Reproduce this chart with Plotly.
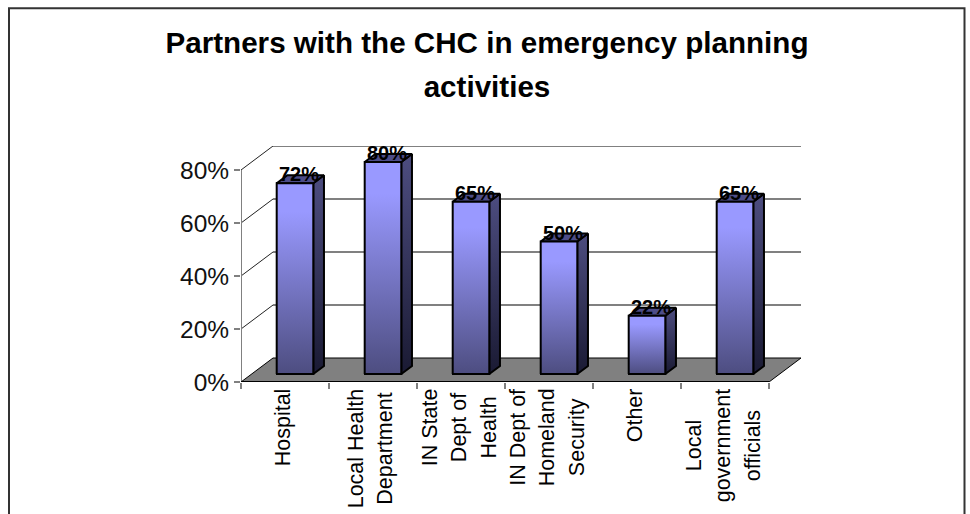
import plotly.graph_objects as go

W, H = 970, 514
title_lines = ["Partners with the CHC in emergency planning", "activities"]
categories = [
    ["Hospital"],
    ["Local Health", "Department"],
    ["IN State", "Dept of", "Health"],
    ["IN Dept of", "Homeland", "Security"],
    ["Other"],
    ["Local", "government", "officials"],
]
values = [72, 80, 65, 50, 22, 65]
y_ticks = [0, 20, 40, 60, 80]

# plot frame in pixels and 3D depth in data units
L, R, T, B = 241, 801, 145.7, 381.7
PX_X = 88.0
PX_Y = 2.65
DX = 32 / PX_X
DY = 24 / PX_Y
X0 = -0.5
X_END = 5.5
BAR_SHIFT = 10 / PX_X
BAR_W = 36.6 / PX_X
FRONT = 1 / 3
BACK = 2 / 3
TOP_Y = 80

fig = go.Figure()
xs = [i + BAR_SHIFT for i in range(len(values))]
fig.add_trace(go.Bar(
    x=xs, y=values, base=DY * FRONT, width=BAR_W,
    marker=dict(color="#7373bf", line=dict(color="black", width=2)),
    hoverinfo="skip", showlegend=False,
))


def poly(px, py, **kw):
    fig.add_trace(go.Scatter(x=px, y=py, mode="lines", fill="toself",
                             line=dict(color="black", width=2), hoverinfo="skip",
                             showlegend=False, **kw))


for x, v in zip(xs, values):
    a, b = x - BAR_W / 2, x + BAR_W / 2
    y0, y1 = DY * FRONT, DY * FRONT + v
    d = DX * (BACK - FRONT)
    e = DY * (BACK - FRONT)
    # side
    poly([b, b + d, b + d, b, b], [y0, y0 + e, y1 + e, y1, y0],
         fillgradient=dict(type="vertical", colorscale=[[0, "#1a1a33"], [1, "#4d4d80"]]))
    # top
    poly([a, b, b + d, a + d, a], [y1, y1, y1 + e, y1 + e, y1], fillcolor="#4d4d88")
    # front
    poly([a, b, b, a, a], [y0, y0, y1, y1, y0],
         fillgradient=dict(type="vertical", colorscale=[[0, "#4d4d80"], [0.85, "#9999ff"], [1, "#9999ff"]]))

fig.add_trace(go.Scatter(
    x=[x + 4 / PX_X for x in xs], y=[v + DY * FRONT - 3 / PX_Y for v in values], mode="text",
    text=[f"{v}%" for v in values], textposition="top center",
    textfont=dict(family="Liberation Sans", size=20, color="black", weight="bold"),
    hoverinfo="skip", showlegend=False, cliponaxis=False,
))

shapes = []
# floor
shapes.append(dict(type="path", layer="below", xref="x", yref="y",
                   path=f"M{X0},0 L{X_END},0 L{X_END + DX},{DY} L{X0 + DX},{DY} Z",
                   fillcolor="#808080", line=dict(color="black", width=1)))
for t in y_ticks:
    if t > 0:
        shapes.append(dict(type="line", layer="below", xref="x", yref="y", x0=X0 + DX, x1=X_END + DX,
                           y0=t + DY, y1=t + DY, line=dict(color="#808080", width=2)))
        shapes.append(dict(type="line", layer="below", xref="x", yref="y", x0=X0, x1=X0 + DX,
                           y0=t, y1=t + DY, line=dict(color="#222222", width=1)))
# axes lines
shapes.append(dict(type="line", layer="below", xref="x", yref="y", x0=X0, x1=X0, y0=0, y1=TOP_Y,
                   line=dict(color="#808080", width=2)))
shapes.append(dict(type="line", layer="below", xref="x", yref="y", x0=X0, x1=X_END, y0=0, y1=0,
                   line=dict(color="black", width=2)))
# outer frame
shapes.append(dict(type="rect", xref="paper", yref="paper",
                   x0=(9 - L) / (R - L), x1=(964.5 - L) / (R - L),
                   y0=(B - 600) / (B - T), y1=(B - 8) / (B - T),
                   line=dict(color="#333333", width=2), fillcolor="rgba(0,0,0,0)"))

annotations = []
for i, lines in enumerate(categories):
    annotations.append(dict(
        x=i, xref="x", xshift=-2, y=(B - 386) / (B - T), yref="paper", yanchor="top", xanchor="center",
        text="<br>".join(f'<span style="font-size:21.5px">{s}</span>' for s in lines),
        textangle=-90, align="center", showarrow=False,
        font=dict(family="Liberation Sans", size=22.7, color="black"),
    ))

fig.update_layout(
    width=W, height=H, autosize=False,
    margin=dict(l=L, r=W - R, t=T, b=H - B, pad=0),
    paper_bgcolor="white", plot_bgcolor="white", showlegend=False,
    title=dict(
        text="<br>".join(f'<span style="font-size:29.6px">{s}</span>' for s in title_lines),
        x=487 / W, xanchor="center", y=1 - 53 / H, yanchor="top",
        font=dict(family="Liberation Sans", size=34, color="black", weight="bold"),
    ),
    xaxis=dict(range=[X0, X_END + DX], tickvals=[X0 + i for i in range(7)], showticklabels=False,
               ticks="outside", ticklen=6, tickwidth=2, tickcolor="#808080", showgrid=False,
               zeroline=False, showline=False, fixedrange=True),
    yaxis=dict(range=[0, TOP_Y + DY], tickvals=y_ticks, ticktext=[f"{t}%" for t in y_ticks],
               ticks="outside", ticklen=6, tickwidth=2, tickcolor="#808080", showgrid=False,
               zeroline=False, showline=False, fixedrange=True,
               tickfont=dict(family="Liberation Sans", size=24.5, color="#111111")),
    shapes=shapes, annotations=annotations, bargap=0,
)
fig.write_html("out.html", config={"displayModeBar": False},
               post_script="document.body.style.margin='0';document.body.style.overflow='hidden';")
